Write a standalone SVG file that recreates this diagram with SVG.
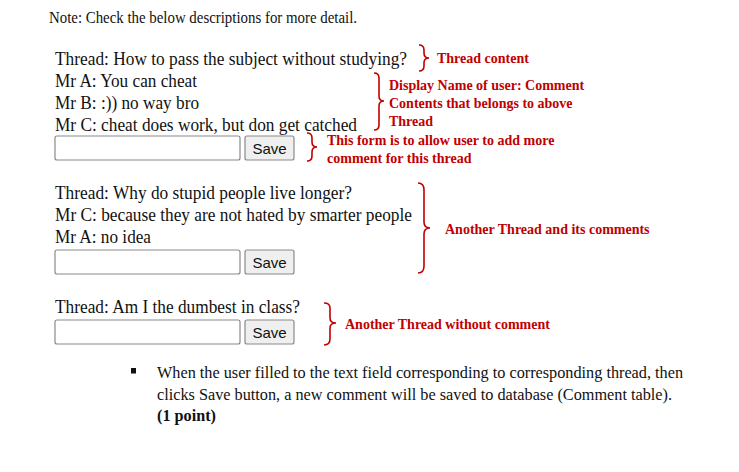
<svg xmlns="http://www.w3.org/2000/svg" width="739" height="472" viewBox="0 0 739 472">
<style>
.t{font-family:"Liberation Serif","Times New Roman",serif;font-size:19px;fill:#111}
.n{font-family:"Liberation Serif","Times New Roman",serif;font-size:17px;fill:#111}
.r{font-family:"Liberation Serif","Times New Roman",serif;font-size:14px;font-weight:bold;fill:#c00000}
.b{font-family:"Liberation Serif","Times New Roman",serif;font-size:17px;fill:#111}
.bb{font-weight:bold}
.in{fill:#fff;stroke:#8a8a8a;stroke-width:1.2}
.btn{fill:#efefef;stroke:#8a8a8a;stroke-width:1.2}
.bt{font-family:"Liberation Sans",Arial,sans-serif;font-size:15px;fill:#111}
.br{fill:none;stroke:#c00000;stroke-width:1.6}
</style>
<rect width="739" height="472" fill="#fff"/>
<text class="n" x="49" y="23" textLength="308" lengthAdjust="spacingAndGlyphs">Note: Check the below descriptions for more detail.</text>

<g id="thread1">
<text class="t" x="55" y="65" textLength="352" lengthAdjust="spacingAndGlyphs">Thread: How to pass the subject without studying?</text>
<text class="t" x="55" y="87" textLength="142" lengthAdjust="spacingAndGlyphs">Mr A: You can cheat</text>
<text class="t" x="55" y="109" textLength="144" lengthAdjust="spacingAndGlyphs">Mr B: :)) no way bro</text>
<text class="t" x="55" y="131" textLength="302" lengthAdjust="spacingAndGlyphs">Mr C: cheat does work, but don get catched</text>
<rect class="in" x="55" y="136" width="185" height="24" rx="2"/>
<rect class="btn" x="245" y="136" width="49" height="24" rx="2"/>
<text class="bt" x="269.5" y="153.5" text-anchor="middle">Save</text>
</g>

<g id="thread2">
<text class="t" x="55" y="199" textLength="297" lengthAdjust="spacingAndGlyphs">Thread: Why do stupid people live longer?</text>
<text class="t" x="55" y="221" textLength="357" lengthAdjust="spacingAndGlyphs">Mr C: because they are not hated by smarter people</text>
<text class="t" x="55" y="243" textLength="96" lengthAdjust="spacingAndGlyphs">Mr A: no idea</text>
<rect class="in" x="55" y="250" width="185" height="24" rx="2"/>
<rect class="btn" x="245" y="250" width="49" height="24" rx="2"/>
<text class="bt" x="269.5" y="267.5" text-anchor="middle">Save</text>
</g>

<g id="thread3">
<text class="t" x="55" y="313" textLength="245" lengthAdjust="spacingAndGlyphs">Thread: Am I the dumbest in class?</text>
<rect class="in" x="55" y="320" width="185" height="24" rx="2"/>
<rect class="btn" x="245" y="320" width="49" height="24" rx="2"/>
<text class="bt" x="269.5" y="337.5" text-anchor="middle">Save</text>
</g>

<g id="connectors">
<path class="br" d="M419,45 Q424,45 424,50 L424,53 Q424,58 429,58 Q424,58 424,63 L424,66 Q424,71 419,71"/>
<path class="br" d="M374,73 Q379,73 379,78 L379,96 Q379,101 384,101 Q379,101 379,106 L379,125 Q379,130 374,130"/>
<path class="br" d="M307,133 Q312,133 312,138 L312,142 Q312,147 317,147 Q312,147 312,152 L312,156 Q312,161 307,161"/>
<path class="br" d="M418,183 Q424,183 424,190 L424,222 Q424,228 430,228 Q424,228 424,234 L424,266 Q424,273 418,273"/>
<path class="br" d="M324,303 Q330,303 330,308 L330,318 Q330,323 336,323 Q330,323 330,328 L330,339 Q330,345 324,345"/>
</g>

<g id="labels">
<text class="r" x="437" y="63">Thread content</text>
<text class="r" x="389" y="90">Display Name of user: Comment</text>
<text class="r" x="389" y="108">Contents that belongs to above</text>
<text class="r" x="389" y="126">Thread</text>
<text class="r" x="327" y="145">This form is to allow user to add more</text>
<text class="r" x="327" y="163">comment for this thread</text>
<text class="r" x="445" y="234">Another Thread and its comments</text>
<text class="r" x="345" y="329">Another Thread without comment</text>
</g>

<g id="note">
<rect x="131" y="368" width="5" height="5.5" fill="#111"/>
<text class="b" x="157" y="378" textLength="526" lengthAdjust="spacingAndGlyphs">When the user filled to the text field corresponding to corresponding thread, then</text>
<text class="b" x="157" y="400" textLength="515" lengthAdjust="spacingAndGlyphs">clicks Save button, a new comment will be saved to database (Comment table).</text>
<text class="b bb" x="157" y="421" textLength="59" lengthAdjust="spacingAndGlyphs">(1 point)</text>
</g>
</svg>
